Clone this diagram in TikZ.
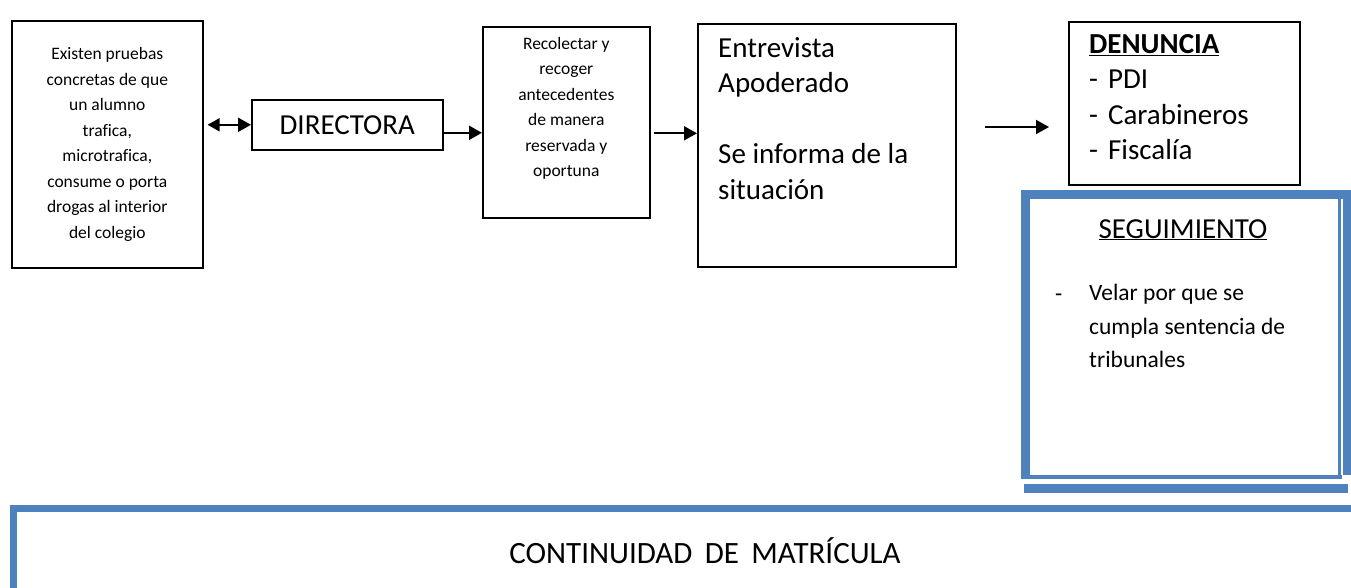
\documentclass[tikz,border=0pt]{standalone}
\usepackage{fontspec}
\setmainfont{Carlito}[Ligatures=NoCommon]
\usepackage{xcolor}
\usepackage{tikz}
\usetikzlibrary{arrows.meta,positioning,calc}

\definecolor{accentblue}{HTML}{4F81BD}

\tikzset{
    box/.style={draw, line width=1.6pt, anchor=north west, inner sep=0pt},
    arr/.style={line width=1.9pt, -{Triangle[length=13pt,width=14pt]}},
    smalltxt/.style={font=\fontsize{17.5}{25.5}\selectfont, align=center, inner sep=0pt},
    bigtxt/.style={font=\fontsize{29}{35.5}\selectfont, align=left, inner sep=0pt},
    listtxt/.style={font=\fontsize{23.5}{33.5}\selectfont, align=left, inner sep=0pt},
    bluefill/.style={fill=accentblue},
}

\begin{document}
\begin{tikzpicture}[x=1pt, y=-1pt]
    \useasboundingbox (0,0) rectangle (1351,588);

    % boxes of the first row
    \node[box, smalltxt, minimum width=191pt, minimum height=247pt] (pruebas) at (11,20)
        {Existen pruebas\\concretas de que\\un alumno\\trafica,\\microtrafica,\\consume o porta\\drogas al interior\\del colegio};
    \node[box, font=\fontsize{29}{35.5}\selectfont, minimum width=191pt, minimum height=50pt] (directora) at (251,99) {DIRECTORA};
    \node[box, minimum width=167pt, minimum height=191pt] (recolectar) at (482,26) {};
    \node[smalltxt, anchor=north] (recolectartxt) at ([yshift=-11pt]recolectar.north)
        {Recolectar y\\recoger\\antecedentes\\de manera\\reservada y\\oportuna};
    \node[box, minimum width=258pt, minimum height=243pt] (entrevista) at (697,23) {};
    \node[bigtxt, anchor=north west] (entrevistatxt) at (718,37)
        {Entrevista\\Apoderado\\[35.5pt]Se informa de la\\situación};
    \node[box, minimum width=231pt, minimum height=163pt] (denuncia) at (1068,21) {};
    \node[bigtxt, anchor=north west] (denunciatxt) at (1089,34)
        {\textbf{\underline{DENUNCIA}}\\-\hspace{10pt}PDI\\-\hspace{10pt}Carabineros\\-\hspace{10pt}Fiscalía};

    % arrows
    \draw[line width=1.9pt, {Triangle[length=12pt,width=13pt]}-{Triangle[length=13pt,width=14pt]}, shorten <=4pt]
        (pruebas.east |- directora.west) -- (directora.west);
    \draw[arr] ([yshift=-8pt]directora.east) -- ([yshift=-8pt]directora.east -| recolectar.west);
    \draw[arr, shorten <=3pt] ([yshift=-11pt]recolectar.east) -- ([yshift=-11pt]recolectar.east -| entrevista.west);
    \coordinate (denstart) at (985,127);
    \draw[arr, shorten >=19pt] (denstart) -- (denstart -| denuncia.west);

    % seguimiento frame
    \fill[bluefill] (1021,190) rectangle (1351,199);
    \fill[bluefill] (1021,190) rectangle (1030,479);
    \fill[bluefill] (1021,475) rectangle (1342,479);
    \fill[bluefill] (1338,199) rectangle (1341,475);
    \fill[bluefill] (1343,190) rectangle (1351,475);
    \fill[bluefill] (1024,484) rectangle (1348,493);
    \node[bigtxt, anchor=base] (seguimiento) at (1183,238) {\underline{SEGUIMIENTO}};
    \node[listtxt, anchor=base west] (guion) at (1055,301) {-};
    \node[listtxt, anchor=north west] (velar) at (1089,284)
        {Velar por que se\\cumpla sentencia de\\tribunales};

    % continuidad frame
    \fill[bluefill] (10,505) rectangle (1351,512);
    \fill[bluefill] (10,505) rectangle (17,588);
    \node[font=\fontsize{31}{36}\selectfont, anchor=base, inner sep=0pt] (matricula) at (705,563) {CONTINUIDAD\hspace{0.4em}DE\hspace{0.4em}MATRÍCULA};
\end{tikzpicture}
\end{document}
